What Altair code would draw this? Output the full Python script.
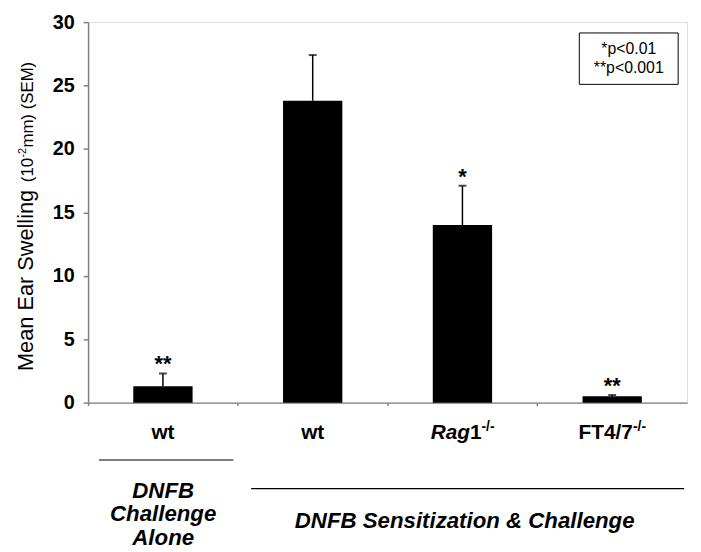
import altair as alt
import pandas as pd

# ---- data ----
categories = ["wt (challenge)", "wt", "Rag1", "FT4/7"]
means = [1.3, 23.8, 14.0, 0.5]
sem_tops = [2.3, 27.4, 17.1, 0.6]
stars = ["**", "", "*", "**"]
y_ticks = [0, 5, 10, 15, 20, 25, 30]
legend_lines = ["*p<0.01", "**p<0.001"]

df = pd.DataFrame({"cat": categories, "mean": means, "top": sem_tops, "star": stars})

FONT = "Liberation Sans"
GRAY = "#808080"
W, H = 606, 385

x_enc = alt.X(
    "cat:N",
    sort=categories,
    scale=alt.Scale(paddingInner=0, paddingOuter=0),
    axis=alt.Axis(labels=False, title=None, ticks=True, tickSize=3, bandPosition=0,
                  domainColor=GRAY, tickColor=GRAY, domainWidth=1.5, tickWidth=1.5),
)
y_scale = alt.Scale(domain=[0, 30])

base = alt.Chart(df)

bars = base.mark_bar(color="black", size=60).encode(
    x=x_enc,
    y=alt.Y("mean:Q", scale=y_scale,
            axis=alt.Axis(values=y_ticks, title=None, grid=False, labelFont=FONT,
                          labelFontSize=20, labelFontWeight="bold", labelColor="black",
                          tickSize=5, labelPadding=9, domainColor=GRAY, tickColor=GRAY,
                          domainWidth=1.5, tickWidth=1.5)),
)
err = base.mark_rule(color="black", strokeWidth=1.5).encode(
    x=alt.X("cat:N", sort=categories), y=alt.Y("mean:Q", scale=y_scale), y2="top:Q")
caps = base.mark_tick(color="black", size=8, thickness=2).encode(
    x=alt.X("cat:N", sort=categories), y=alt.Y("top:Q", scale=y_scale))
star_txt = base.mark_text(font=FONT, fontSize=22, fontWeight="bold", baseline="alphabetic",
                          dy=-2, color="black").encode(
    x=alt.X("cat:N", sort=categories), y=alt.Y("top:Q", scale=y_scale), text="star:N")

# legend box (p-values)
leg_box = alt.Chart(pd.DataFrame({"a": [0]})).mark_rect(
    fill="white", stroke="black", strokeWidth=1).encode(
    x=alt.value(497), x2=alt.value(597), y=alt.value(11), y2=alt.value(63))
leg_df = pd.DataFrame({"t": legend_lines, "yy": [27, 47]})
leg_txt = alt.Chart(leg_df).mark_text(font=FONT, fontSize=16, color="black",
                                      baseline="middle", align="center").encode(
    x=alt.value(547), y=alt.Y("yy:Q", scale=None, axis=None), text="t:N")

# y-axis title with mixed sizes and superscript
def ytxt(t, x, y, size):
    return alt.Chart(pd.DataFrame({"t": [t]})).mark_text(
        font=FONT, fontSize=size, angle=270, align="left", baseline="alphabetic",
        color="black").encode(x=alt.value(x), y=alt.value(y), text="t:N")

ytitle = (ytxt("Mean Ear Swelling", -56, 353, 22)
          + ytxt("(10", -56, 162, 17)
          + ytxt("-2", -63, 137, 11)
          + ytxt("mm) (SEM)", -56, 127, 17))

# category labels below the axis
LBL_Y = 422
def cat_txt(cat, t, dx, size, style="normal", dy=0, align="left"):
    d = pd.DataFrame({"cat": [cat], "t": [t]})
    return alt.Chart(d).mark_text(
        font=FONT, fontSize=size, fontWeight="bold", fontStyle=style, align=align,
        baseline="alphabetic", dx=dx, dy=dy, color="black").encode(
        x=alt.X("cat:N", sort=categories), y=alt.value(LBL_Y), text="t:N")

cat_labels = (cat_txt(categories[0], "wt", 0, 21, align="center")
              + cat_txt(categories[1], "wt", 0, 21, align="center")
              + cat_txt(categories[2], "Rag", -32, 21, style="italic")
              + cat_txt(categories[2], "1", 7.6, 21)
              + cat_txt(categories[2], "-/-", 19.3, 14, dy=-8)
              + cat_txt(categories[3], "FT4/7", -34, 21)
              + cat_txt(categories[3], "-/-", 21.0, 14, dy=-8))

def hline(x1, x2, y):
    return alt.Chart(pd.DataFrame({"a": [0]})).mark_rule(color="black", strokeWidth=1.2).encode(
        x=alt.value(x1), x2=alt.value(x2), y=alt.value(y))

def gtxt(t, x, y):
    return alt.Chart(pd.DataFrame({"t": [t]})).mark_text(
        font=FONT, fontSize=22.5, fontWeight="bold", fontStyle="italic", align="center",
        baseline="alphabetic", color="black").encode(x=alt.value(x), y=alt.value(y), text="t:N")

groups = (hline(11, 147, 443) + hline(165, 603, 472)
          + gtxt("DNFB", 76, 481) + gtxt("Challenge", 76, 505) + gtxt("Alone", 76, 529)
          + gtxt("DNFB Sensitization & Challenge", 381, 512))

chart = alt.layer(
    bars, err, caps, star_txt, leg_box, leg_txt, ytitle, cat_labels, groups
).properties(
    width=W, height=H,
    autosize=alt.AutoSizeParams(type="none"),
    padding={"left": 81, "top": 11, "right": 6, "bottom": 160},
).configure_view(stroke=GRAY, strokeWidth=1.5).configure(background="white")

chart.save("out.html", embed_options={"renderer": "svg", "actions": False})
